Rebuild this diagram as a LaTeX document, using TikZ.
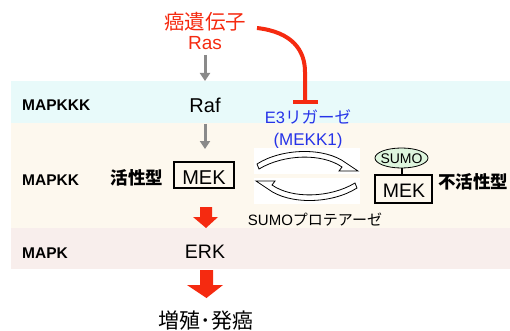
\documentclass[tikz,border=0pt]{standalone}
\usepackage{fontspec}
\setmainfont{Liberation Sans}
\newfontfamily\jp{Noto Sans CJK JP}
\usetikzlibrary{arrows.meta,shapes.geometric}
\definecolor{bandcyan}{HTML}{E8FAFA}
\definecolor{bandcream}{HTML}{FDF8EE}
\definecolor{bandpink}{HTML}{F8EEEC}
\definecolor{redc}{HTML}{F52A10}
\definecolor{bluec}{HTML}{2633E8}
\definecolor{grayc}{HTML}{8A8A8A}
\definecolor{sumog}{HTML}{DDF5DD}
\tikzset{
  lvl/.style={anchor=base west,inner sep=0pt,font=\bfseries\fontsize{15.5}{15}\selectfont},
  prot/.style={anchor=base,font=\fontsize{20}{20}\selectfont},
  mekbox/.style={draw,line width=1.1pt,minimum width=60pt,minimum height=26pt,inner sep=0pt},
  grayarr/.style={draw=grayc,line width=3pt,-{Triangle[width=10pt,length=8pt]}},
  hollow/.style={draw=black,line width=0.8pt,fill=white},
}
\begin{document}
\begin{tikzpicture}[x=1pt,y=-1pt]
\useasboundingbox (0,0) rectangle (510,331);
% bands
\fill[bandcyan] (11,81) rectangle (510,123);
\fill[bandcream] (11,123) rectangle (510,228);
\fill[bandpink] (11,228) rectangle (510,269);
% level labels
\node[lvl] (l1) at (22,111) {MAPKKK};
\node[lvl] (l2) at (22,185) {MAPKK};
\node[lvl] (l3) at (22,258) {MAPK};
% top
\node[anchor=base,text=redc,font=\jp\fontsize{20.5}{20}\selectfont,inner sep=0pt] (onc) at (205,30) {癌遺伝子};
\node[anchor=base,text=redc,font=\fontsize{19}{19}\selectfont,inner sep=0pt] (ras) at (205,50) {Ras};
\node[prot,inner sep=0pt] (raf) at (205,113) {Raf};
\coordinate (a1s) at (205,55);
\coordinate (a1e) at (205,81);
\draw[grayarr] (a1s) -- (a1e);
\coordinate (a2s) at (205,124);
\coordinate (a2e) at (205,149);
\draw[grayarr] (a2s) -- (a2e);
% inhibition
\coordinate (ts) at (257,28);
\coordinate (tm) at (305,72);
\coordinate (te) at (305,102);
\coordinate (tb1) at (293,102);
\coordinate (tb2) at (318,102);
\draw[redc,line width=4pt] (ts) .. controls (292,32) and (305,50) .. (tm) -- (te);
\draw[redc,line width=4pt] (tb1) -- (tb2);
% E3 ligase
\node[anchor=base,text=bluec,font=\fontsize{16.5}{17}\selectfont,inner sep=0pt] (e3) at (308,124) {E3{\jp リガーゼ}};
\node[anchor=base,text=bluec,font=\fontsize{17}{17}\selectfont,inner sep=0pt] (mekk) at (308,145) {(MEKK1)};
% active MEK
\node[mekbox] (mek1) at (204,175) {};
\node[prot,inner sep=0pt] (mek1t) at (204,184) {MEK};
\node[anchor=base,font=\jp\bfseries\fontsize{17.5}{18}\selectfont,inner sep=0pt] (act) at (137,184) {活性型};
% arrows between
\fill[white] (254,148) rectangle (360,174);
\fill[white] (254,178) rectangle (360,204);
\draw[hollow] (257,164) .. controls (282,148) and (325,147) .. (346,163) -- (358,171) -- (339,171) -- (342,167) .. controls (322,153) and (284,154) .. (259,169) -- cycle;
\begin{scope}[rotate around={180:(307,176)}]
\draw[hollow] (257,164) .. controls (282,148) and (325,147) .. (346,163) -- (358,171) -- (339,171) -- (342,167) .. controls (322,153) and (284,154) .. (259,169) -- cycle;
\end{scope}
% inactive MEK
\node[mekbox,minimum width=57pt,minimum height=28pt] (mek2) at (403.5,189) {};
\node[prot,font=\fontsize{19.5}{19}\selectfont,inner sep=0pt] (mek2t) at (404,197) {MEK};
\node[ellipse,draw,line width=0.8pt,fill=sumog,minimum width=53pt,minimum height=20pt,inner sep=0pt] (sumo) at (401.5,158) {};
\node[anchor=base,font=\fontsize{14}{14}\selectfont,inner sep=0pt] (sumot) at (401.5,163) {SUMO};
\draw[line width=2pt] (sumo.south) -- (mek2.north -| sumo.south);
\node[anchor=base,font=\jp\bfseries\fontsize{17.5}{18}\selectfont,inner sep=0pt] (inact) at (473,188) {不活性型};
\node[anchor=base,font=\fontsize{15}{15}\selectfont,inner sep=0pt] (prot) at (315,225) {SUMO{\jp プロテアーゼ}};
% red arrows
\fill[redc] (200,207) -- (212,207) -- (212,217) -- (218,217) -- (206,228) -- (193,217) -- (200,217) -- cycle;
\node[prot,font=\fontsize{19.5}{19}\selectfont,inner sep=0pt] (erk) at (205,258) {ERK};
\fill[redc] (200,270) -- (213,270) -- (213,285) -- (223,285) -- (206.5,298) -- (187,285) -- (200,285) -- cycle;
\node[anchor=base,font=\jp\fontsize{21}{21}\selectfont,inner sep=0pt] (prolif) at (206,328) {増殖･発癌};
\end{tikzpicture}
\end{document}
